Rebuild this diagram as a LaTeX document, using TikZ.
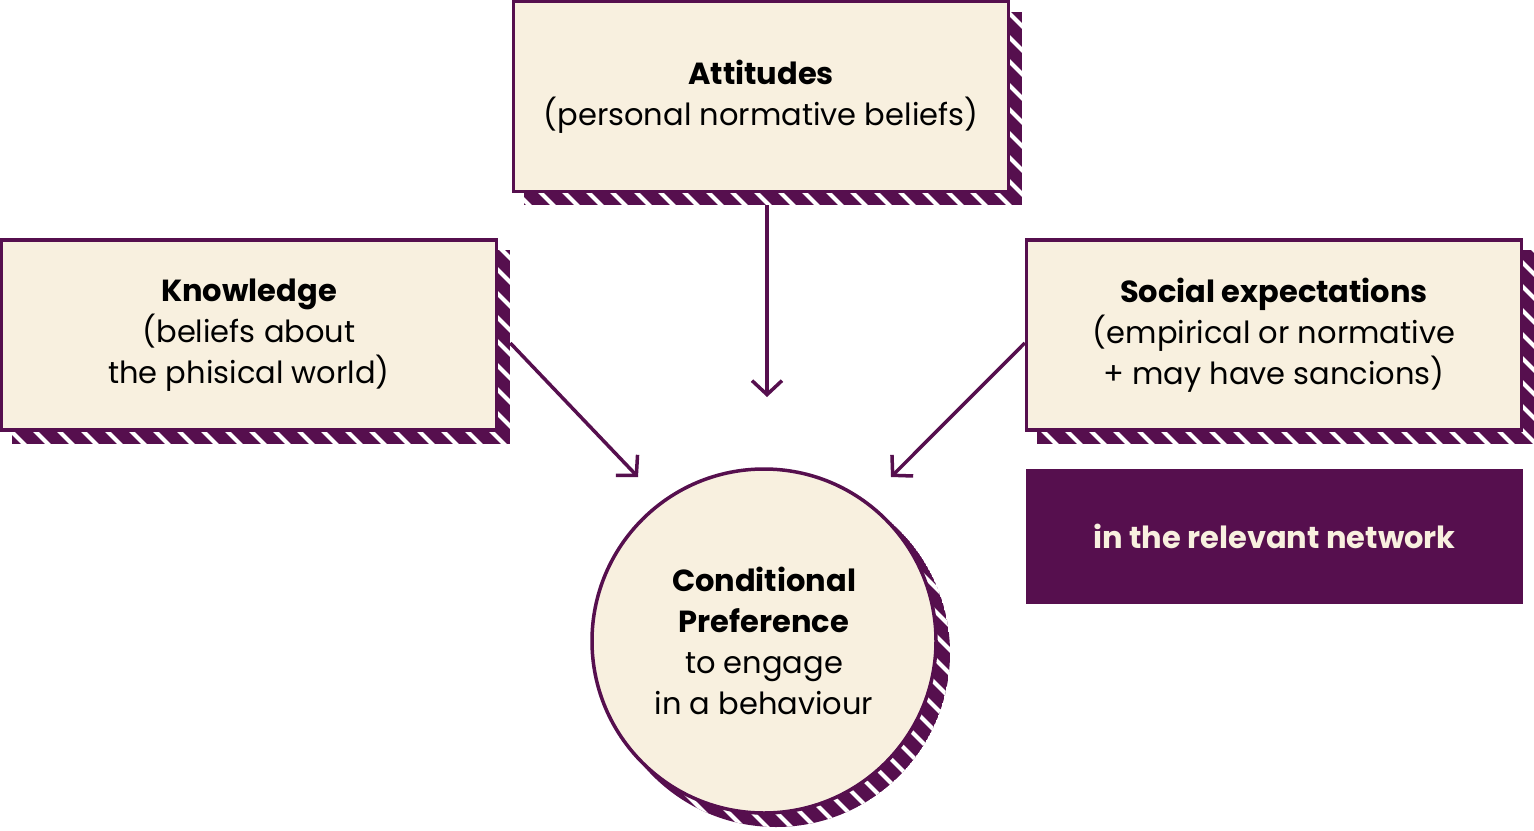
\documentclass[tikz,border=0pt]{standalone}
\usepackage{fontspec}
\setmainfont{Poppins}
\usetikzlibrary{arrows.meta,calc,backgrounds}
\definecolor{purp}{HTML}{560F4E}
\definecolor{cream}{HTML}{F8F0DF}
\tikzset{
  txt/.style={font=\fontsize{30.5}{41}\selectfont},
  box/.style={draw=purp, line width=3.5pt, fill=cream, minimum width=495pt, minimum height=190pt, inner sep=0pt, align=center, txt},
  stripe/.style={white, line width=4pt},
  arr/.style={draw=purp, line width=3.5pt, -{Straight Barb[length=14pt,width=30pt,line width=3.5pt]}},
}
\newcommand{\hatchfill}[1]{%
  \begin{scope}
    \clip #1;
    \fill[purp] #1;
    \foreach \i in {-900,-876,...,1600}{\draw[stripe] (\i,0) -- ++(850,850);}
  \end{scope}}
\begin{document}
\begin{tikzpicture}[x=1pt,y=-1pt]
\useasboundingbox (0,0) rectangle (1534,830);
\node[box] (att) at (761,96.5) {\textbf{Attitudes}\\(personal normative beliefs)};
\node[box] (know) at (249,335) {\textbf{Knowledge}\\(beliefs about\\the phisical world)};
\node[box] (soc) at (1274,335) {\textbf{Social expectations}\\(empirical or normative\\+ may have sancions)};
\node[fill=purp, text=cream, minimum width=497pt, minimum height=135pt, inner sep=0pt, font={\fontsize{30.5}{41}\selectfont\bfseries}] (net) at (1274.5,536.5) {in the relevant network};
\node[circle, draw=purp, line width=3.5pt, fill=cream, minimum size=344pt, inner sep=0pt, align=center, txt] (cp) at (764,641) {\textbf{Conditional}\\\textbf{Preference}\\to engage\\in a behaviour};
\begin{scope}[on background layer]
\foreach \n in {att,know,soc}{
  \hatchfill{($(\n.north west)+(12,12)$) rectangle ($(\n.south east)+(12,12)$)}
}
\hatchfill{($(cp.center)+(12,12)$) circle (174)}
\end{scope}
\coordinate (a1) at (767,397);
\coordinate (a2) at (638,477);
\coordinate (a3) at (891,477);
\draw[arr] ($(att.south -| a1)+(0,12)$) -- (a1);
\draw[arr] ($(know.east)+(12,8)$) -- (a2);
\draw[arr] ($(soc.west)+(0,8)$) -- (a3);
\end{tikzpicture}
\end{document}
